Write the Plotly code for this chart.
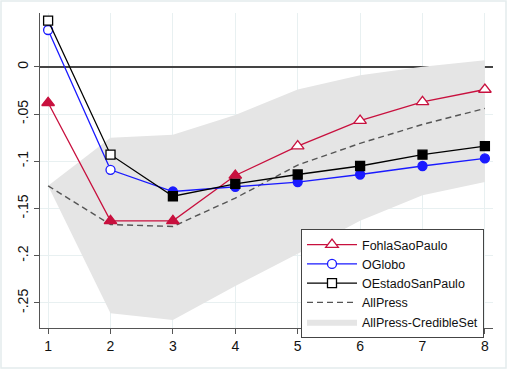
import plotly.graph_objects as go

steps = [1, 2, 3, 4, 5, 6, 7, 8]
fohla = [-0.038, -0.163, -0.163, -0.115, -0.084, -0.057, -0.037, -0.024]
fohla_filled = [True, True, True, True, False, False, False, False]
oglobo = [0.039, -0.109, -0.132, -0.127, -0.122, -0.114, -0.105, -0.097]
oglobo_filled = [False, False, True, True, True, True, True, True]
oestado = [0.049, -0.093, -0.137, -0.124, -0.114, -0.105, -0.093, -0.084]
oestado_filled = [False, False, True, True, True, True, True, True]
allpress = [-0.126, -0.167, -0.169, -0.139, -0.104, -0.081, -0.061, -0.044]
cred_upper = [-0.126, -0.075, -0.072, -0.051, -0.024, -0.009, 0.0, 0.007]
cred_lower = [-0.126, -0.261, -0.268, -0.232, -0.198, -0.163, -0.136, -0.122]
ytick_vals = [0, -0.05, -0.1, -0.15, -0.2, -0.25]
ytick_text = ["0", "-.05", "-.1", "-.15", "-.2", "-.25"]

RED = "#c8103e"
BLUE = "#1a1aff"
BLACK = "#000000"
BAND = "#e5e5e5"
DASH = "#555555"
FONT = "Arial, Liberation Sans, sans-serif"

fig = go.Figure()

# credible band
fig.add_trace(go.Scatter(x=steps, y=cred_lower, mode="lines", line=dict(width=0),
                         showlegend=False, hoverinfo="skip"))
fig.add_trace(go.Scatter(x=steps, y=cred_upper, mode="lines", line=dict(width=0),
                         fill="tonexty", fillcolor=BAND, showlegend=False, hoverinfo="skip"))

# AllPress
fig.add_trace(go.Scatter(x=steps, y=allpress, mode="lines",
                         line=dict(color=DASH, width=1.4, dash="6px,4px"), showlegend=False))


def series(y, filled, color, symbol, size):
    fig.add_trace(go.Scatter(
        x=steps, y=y, mode="lines+markers",
        line=dict(color=color, width=1.3),
        marker=dict(symbol=symbol, size=size,
                    color=[color if f else "white" for f in filled],
                    line=dict(color=color, width=1.3)),
        showlegend=False))


series(fohla, fohla_filled, RED, "triangle-up", 11)
series(oglobo, oglobo_filled, BLUE, "circle", 9)
series(oestado, oestado_filled, BLACK, "square", 9)

# legend-only entries
def leg(name, color, symbol, size):
    fig.add_trace(go.Scatter(x=[None], y=[None], mode="lines+markers", name=name,
                             line=dict(color=color, width=1.3),
                             marker=dict(symbol=symbol, size=size, color="white",
                                         line=dict(color=color, width=1.3))))

leg("FohlaSaoPaulo", RED, "triangle-up", 11)
leg("OGlobo", BLUE, "circle", 9)
leg("OEstadoSanPaulo", BLACK, "square", 9)
fig.add_trace(go.Scatter(x=[None], y=[None], mode="lines", name="AllPress",
                         line=dict(color=DASH, width=1.4, dash="6px,4px")))
fig.add_trace(go.Scatter(x=[None, None, None], y=[None, None, None], mode="lines",
                         name="AllPress-CredibleSet", fill="toself", fillcolor=BAND,
                         line=dict(width=0, color=BAND)))

W, H = 507, 369
ml, mr, mt, mb = 40, 14, 13, 41
pw, ph = W - ml - mr, H - mt - mb

fig.update_layout(
    width=W, height=H,
    margin=dict(l=ml, r=mr, t=mt, b=mb, autoexpand=False),
    paper_bgcolor="white", plot_bgcolor="white",
    font=dict(family=FONT, size=14, color="#111"),
    legend=dict(x=(301 - ml) / pw, y=(H - mb - 229) / ph, xanchor="left", yanchor="top",
                bgcolor="white", bordercolor="#444", borderwidth=1,
                font=dict(size=12.5, family=FONT, color="#111"),
                traceorder="normal", tracegroupgap=0, itemwidth=50),
    xaxis=dict(range=[0.87, 8.13], tickvals=steps, ticktext=[str(s) for s in steps],
               showgrid=True, gridcolor="#e8f0f1", gridwidth=1, automargin=False,
               showline=True, linecolor="#555", linewidth=1,
               ticks="outside", ticklen=5, tickcolor="#555", zeroline=False,
               tickfont=dict(size=14)),
    yaxis=dict(range=[-0.2765, 0.057], tickvals=ytick_vals, ticktext=ytick_text,
               tickangle=-90, showgrid=True, gridcolor="#e8f0f1", gridwidth=1,
               automargin=False,
               showline=True, linecolor="#555", linewidth=1,
               ticks="outside", ticklen=5, tickcolor="#555",
               zeroline=True, zerolinecolor="#444", zerolinewidth=1.5,
               tickfont=dict(size=14)),
    shapes=[dict(type="rect", xref="paper", yref="paper",
                 x0=(1 - ml) / pw, x1=(W - 1 - ml) / pw,
                 y0=-(mb - 1) / ph, y1=1 + (mt - 1) / ph,
                 line=dict(color="#e4eced", width=1.5), layer="below")],
)

fig.write_html("out.html", config={"displayModeBar": False},
               post_script="document.body.style.margin='0';document.body.style.padding='0';")
